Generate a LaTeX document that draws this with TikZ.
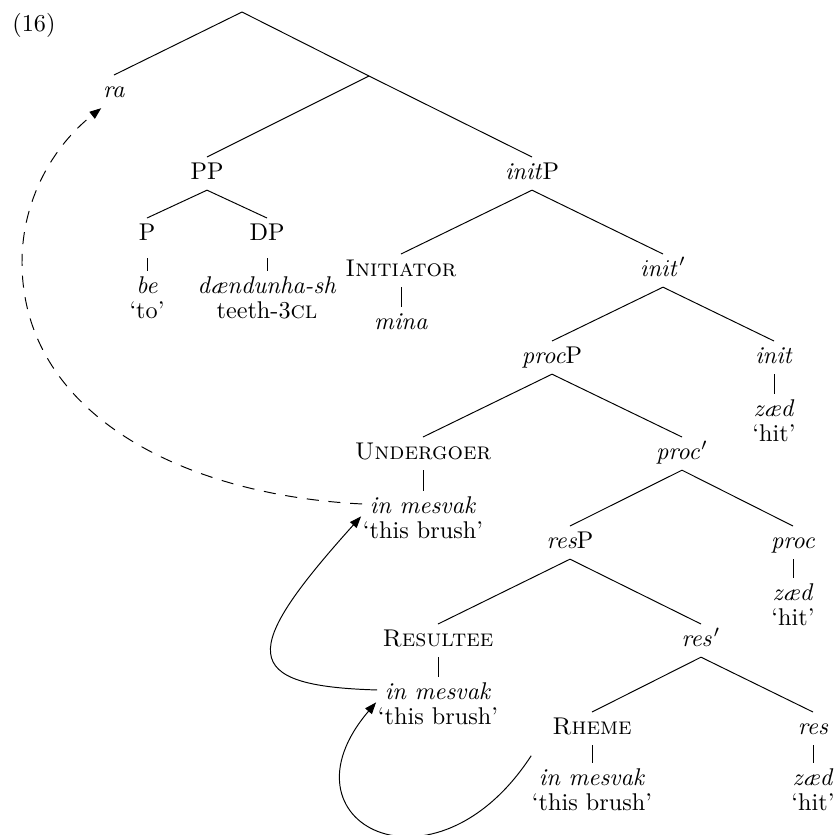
\documentclass[tikz,border=0pt]{standalone}
\usetikzlibrary{arrows.meta}
\begin{document}
\begin{tikzpicture}[x=0.4132pt, y=-0.4132pt,
  cat/.style={inner sep=0.6pt, text height=8.5pt, text depth=3.6pt, anchor=north},
  word/.style={cat, inner xsep=3pt},
  gloss/.style={inner sep=0.6pt, text height=8.5pt, text depth=3.6pt, anchor=base},
  move/.style={-{Triangle[length=4.8pt,width=3.6pt]}},
]
\useasboundingbox (0,0) rectangle (838,834);

% example number
\node[anchor=base west, inner sep=0pt] (ex) at (12,31) {(16)};

% branching points without labels
\coordinate (root) at (242,12);
\coordinate (vbar) at (369,76);

% categories
\node[cat] (ra)      at (114,75)  {\textit{ra}};
\node[cat] (PP)      at (207,157) {PP};
\node[cat] (initP)   at (532,157) {\textit{init}P};
\node[cat] (P)       at (147,218) {P};
\node[cat] (DP)      at (267,218) {DP};
\node[cat] (Init)    at (401,254) {\textsc{Initiator}};
\node[cat] (initbar) at (663,254) {$\mathit{init}'$};
\node[cat] (procP)   at (552,341) {\textit{proc}P};
\node[cat] (init)    at (774,341) {\textit{init}};
\node[cat] (Und)     at (423,437) {\textsc{Undergoer}};
\node[cat] (procbar) at (682,437) {$\mathit{proc}'$};
\node[cat] (resP)    at (570,526) {\textit{res}P};
\node[cat] (proc)    at (793,526) {\textit{proc}};
\node[cat] (Res)     at (438,624) {\textsc{Resultee}};
\node[cat] (resbar)  at (701,624) {$\mathit{res}'$};
\node[cat] (Rh)      at (592,712) {\textsc{Rheme}};
\node[cat] (res)     at (813,712) {\textit{res}};

% lexical items and glosses
\node[word] (be)    at (147,271) {\textit{be}};
\node[gloss] (beg)  at ([yshift=-10.5pt]be.base) {‘to’};
\node[word] (dae)   at (267,271) {\textit{dændunha-sh}};
\node[gloss] (daeg) at ([yshift=-10.5pt]dae.base) {teeth-3\textsc{cl}};
\node[word] (mina)  at (401,307) {\textit{mina}};
\node[word] (initw) at (774,394) {\textit{zæd}};
\node[gloss] (initg) at ([yshift=-10.5pt]initw.base) {‘hit’};
\node[word] (uw)    at (423,491) {\textit{in mesvak}};
\node[gloss] (ug)   at ([yshift=-10.5pt]uw.base) {‘this brush’};
\node[word] (procw) at (793,578) {\textit{zæd}};
\node[gloss] (procg) at ([yshift=-10.5pt]procw.base) {‘hit’};
\node[word] (rw)    at (438,677) {\textit{in mesvak}};
\node[gloss] (rg)   at ([yshift=-10.5pt]rw.base) {‘this brush’};
\node[word] (rhw)   at (592,763) {\textit{in mesvak}};
\node[gloss] (rhg)  at ([yshift=-10.5pt]rhw.base) {‘this brush’};
\node[word] (resw)  at (813,763) {\textit{zæd}};
\node[gloss] (resg) at ([yshift=-10.5pt]resw.base) {‘hit’};

% branches
\draw (root) -- (ra.north);
\draw (root) -- (vbar);
\draw (vbar) -- (PP.north);
\draw (vbar) -- (initP.north);
\draw (PP.south) -- (P.north);
\draw (PP.south) -- (DP.north);
\draw[shorten <=3pt] (P.south) -- (be.north);
\draw[shorten <=3pt] (DP.south) -- (dae.north);
\draw (initP.south) -- (Init.north);
\draw (initP.south) -- (initbar.north);
\draw (Init.south) -- (mina.north);
\draw (initbar.south) -- (procP.north);
\draw (initbar.south) -- (init.north);
\draw (init.south) -- (initw.north);
\draw (procP.south) -- (Und.north);
\draw (procP.south) -- (procbar.north);
\draw (Und.south) -- (uw.north);
\draw (procbar.south) -- (resP.north);
\draw (procbar.south) -- (proc.north);
\draw (proc.south) -- (procw.north);
\draw (resP.south) -- (Res.north);
\draw (resP.south) -- (resbar.north);
\draw (Res.south) -- (rw.north);
\draw (resbar.south) -- (Rh.north);
\draw (resbar.south) -- (res.north);
\draw (Rh.south) -- (rhw.north);
\draw (res.south) -- (resw.north);

% movement arrows
\draw[move, dash pattern=on 5pt off 4pt] ([yshift=1.5pt]uw.west)
  .. controls (180,495) and (22,412) .. (22,262)
  .. controls (22,200) and (53,146) .. (ra.south west);
\draw[move] ([yshift=1.5pt]rw.west) .. controls (238,686) and (240,651) .. (ug.north west);
\draw[move] ([yshift=3pt]rhw.north west) .. controls (434,905) and (273,823) .. (rg.north west);
\end{tikzpicture}
\end{document}
